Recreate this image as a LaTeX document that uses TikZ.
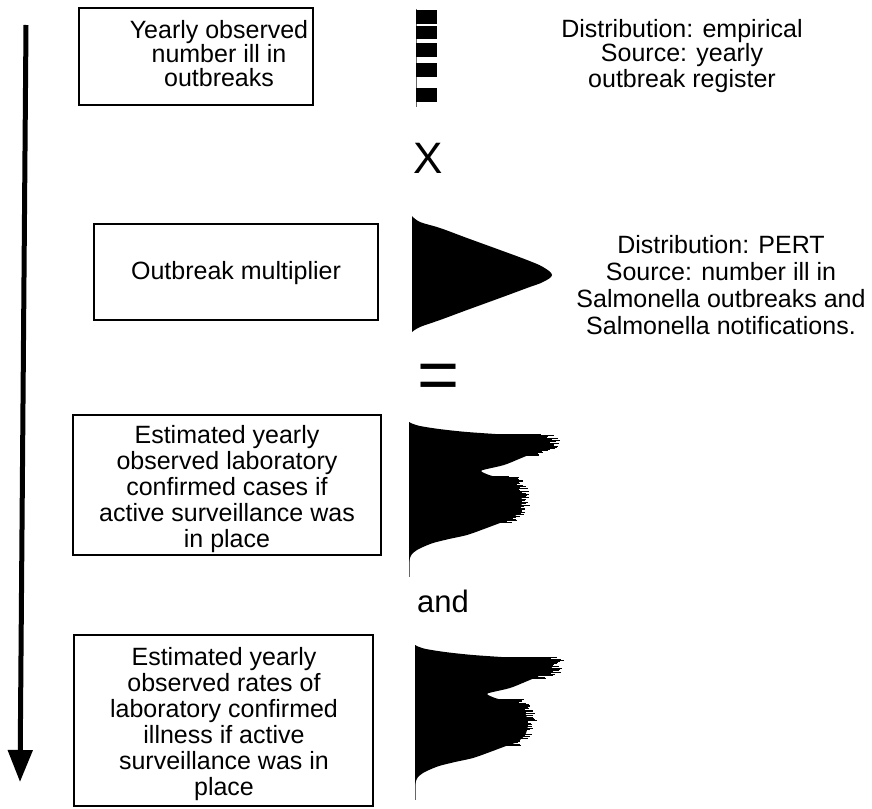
\documentclass[tikz,border=0pt]{standalone}
\usepackage{fontspec}
\setmainfont{Liberation Sans}
\usetikzlibrary{arrows.meta}
\newcommand\histfig[1]{%
  \pgfmathsetseed{#1}%
  \draw[black!60, line width=1pt] (0,0) -- (0,155);
  \fill plot[smooth, tension=0.5] coordinates {(0,0) (3,1.5) (11,4) (30,7) (58,10) (101,13) (124,15) (136,18) (138,21) (133,26) (124,31) (110,37) (95,43) (78,47) (72,49) (80,53) (95,57) (106,62) (111,70) (113,80) (110,90) (102,97) (91,101) (75,107) (58,113) (40,117) (24,121) (14,125) (8,128) (3,132) (1,136) (0,140)} -- cycle;
  \foreach \y in {12,12.5,...,33} {%
    \pgfmathsetmacro\len{140-0.12*(\y-20)^2+20*rnd-8}%
    \draw[line width=0.5pt] (60,\y) -- (\len,\y);}
  \foreach \y in {54,54.5,...,100} {%
    \pgfmathsetmacro\len{113-0.025*(\y-76)^2+16*rnd-7}%
    \draw[line width=0.5pt] (60,\y) -- (\len,\y);}
}
\begin{document}
\begin{tikzpicture}[x=1pt,y=-1pt,
  box/.style={draw, line width=2pt, inner sep=0pt},
  txt/.style={font=\fontsize{25}{26}\selectfont, align=center, inner sep=0pt, anchor=base},
  sym/.style={inner sep=0pt}]
\useasboundingbox (0,0) rectangle (872,808);
\fill[white] (0,0) rectangle (872,808);

% boxes
\node[box, minimum width=234pt, minimum height=97pt] (b1) at (196,56.5) {};
\node[box, minimum width=284pt, minimum height=96pt] (b2) at (236,272) {};
\node[box, minimum width=308pt, minimum height=140pt] (b3) at (227,485) {};
\node[box, minimum width=299pt, minimum height=171pt] (b4) at (223.5,720.5) {};

% box texts (anchored at the baseline of the last line)
\node[txt, font=\fontsize{25}{24}\selectfont] (t1) at (219,86) {Yearly observed\\number ill in\\outbreaks};
\node[txt] (t2) at (236,279) {Outbreak multiplier};
\node[txt] (t3) at (227,547) {Estimated yearly\\observed laboratory\\confirmed cases if\\active surveillance was\\in place};
\node[txt] (t4) at (224,795) {Estimated yearly\\observed rates of\\laboratory confirmed\\illness if active\\surveillance was in\\place};

% right texts
\node[txt, font=\fontsize{25}{25}\selectfont] (s1) at (682,87) {Distribution: empirical\\Source: yearly\\outbreak register};
\node[txt, font=\fontsize{25}{27}\selectfont] (s2) at (721,334) {Distribution: PERT\\Source: number ill in\\Salmonella outbreaks and\\Salmonella notifications.};

% operators
\node[sym, font=\fontsize{44}{44}\selectfont] (times) at (428,158) {X};
\node[sym, font=\fontsize{72}{72}\selectfont] (eq) at (439,382) {=};
\node[sym, font=\fontsize{31}{31}\selectfont] (and) at (443,601) {and};

% empirical distribution (bars)
\draw[black!60, line width=1pt] (416,9) -- (416,107);
\fill (416,10) rectangle (437,24);
\fill (416,26) rectangle (437,39);
\fill (416,43) rectangle (437,57);
\fill (416,63) rectangle (437,77);
\fill (416,88) rectangle (437,102);

% PERT distribution
\fill plot[smooth, tension=0.6] coordinates {(412,216) (420,222) (440,228) (467,238) (500,250) (527,260) (543,267) (552,275) (543,282) (527,288) (500,298) (467,310) (440,320) (420,327) (412,332)} -- cycle;

% output histograms
\begin{scope}[shift={(409,422)}]
\histfig{3}
\end{scope}
\begin{scope}[shift={(415,645)}]
\histfig{7}
\end{scope}

% time arrow
\coordinate (atop) at (26,25);
\coordinate (abot) at (20,782);
\draw[line width=5pt, -{Triangle[width=24pt,length=32pt]}] (atop) -- (abot);
\end{tikzpicture}
\end{document}
